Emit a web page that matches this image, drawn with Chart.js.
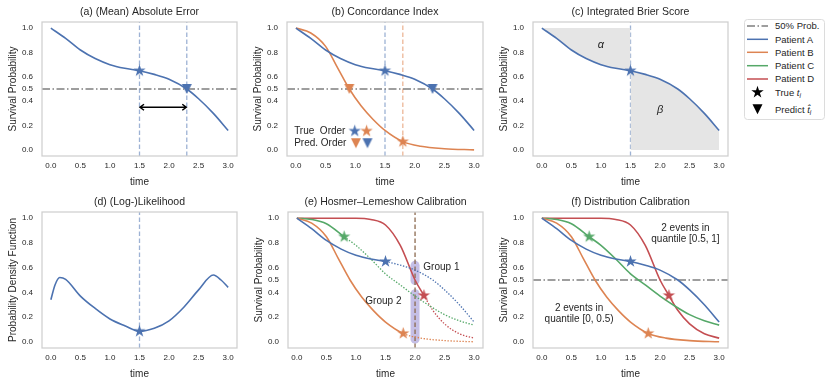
<!DOCTYPE html>
<html>
<head>
<meta charset="utf-8">
<script src="https://cdn.jsdelivr.net/npm/chart.js@4.4.1/dist/chart.umd.min.js"></script>
<style>
  body { margin: 0; width: 830px; height: 387px; background: #fff; position: relative; overflow: hidden; }
  canvas { position: absolute; }
  #legend { position: absolute; left: 743px; top: 18px; }
</style>
</head>
<body>
<canvas id="ca" width="244" height="194" style="left:0px;top:0px"></canvas>
<canvas id="cb" width="245" height="194" style="left:245px;top:0px"></canvas>
<canvas id="cc" width="244" height="194" style="left:491px;top:0px"></canvas>
<canvas id="cd" width="244" height="196" style="left:0px;top:190px"></canvas>
<canvas id="ce" width="244" height="196" style="left:246px;top:190px"></canvas>
<canvas id="cf" width="244" height="196" style="left:491px;top:190px"></canvas>
<svg id="legend" width="83" height="103"></svg>
<script>
// ---- data ----
const xTicks = [0, 0.5, 1.0, 1.5, 2.0, 2.5, 3.0];
const yTicksSurv = [0, 0.2, 0.4, 0.5, 0.6, 0.8, 1.0];
const yTicksPlain = [0, 0.2, 0.4, 0.6, 0.8, 1.0];

const timeA = [0, 0.25, 0.5, 0.75, 1.0, 1.25, 1.5, 1.75, 2.0, 2.3, 2.5, 2.75, 3.0];
const survA = [1.0, 0.915, 0.82, 0.75, 0.70, 0.67, 0.65, 0.62, 0.58, 0.50, 0.42, 0.30, 0.16];
const timeB = [0, 0.25, 0.5, 0.7, 0.9, 1.1, 1.3, 1.5, 1.8, 2.1, 2.5, 3.0];
const survB = [1.0, 0.96, 0.85, 0.675, 0.50, 0.36, 0.25, 0.16, 0.068, 0.03, 0.01, 0.0];
const timeC = [0, 0.25, 0.5, 0.8, 1.0, 1.25, 1.5, 1.75, 2.0, 2.25, 2.5, 2.75, 3.0];
const survC = [1.0, 0.99, 0.955, 0.85, 0.78, 0.67, 0.55, 0.46, 0.37, 0.29, 0.22, 0.17, 0.135];
const timeD = [0, 0.5, 1.0, 1.25, 1.5, 1.75, 2.0, 2.15, 2.3, 2.5, 2.75, 3.0];
const survD = [1.0, 1.0, 1.0, 0.99, 0.945, 0.78, 0.50, 0.375, 0.255, 0.145, 0.065, 0.03];

const timePdf = [0, 0.07, 0.15, 0.25, 0.5, 0.75, 1.0, 1.25, 1.5, 1.75, 2.0, 2.25, 2.5, 2.75, 2.88, 3.0];
const pdfA = [0.34, 0.46, 0.52, 0.505, 0.37, 0.27, 0.185, 0.13, 0.085, 0.11, 0.17, 0.28, 0.42, 0.54, 0.50, 0.44];

// true event (star) and predicted median time (triangle), patients A..D
const trueTimes = [1.5, 1.8, 0.8, 2.15];
const trueProbs = [0.65, 0.068, 0.85, 0.375];
const predTimes = [2.3, 0.9];
const predProbs = [0.5, 0.5];
const pdfAtTrue = 0.085;

const legendLabels = ['50% Prob.', 'Patient A', 'Patient B', 'Patient C', 'Patient D'];

// ---- styling ----
const INK = '#262626';
const COLORS = ['#4C72B0', '#DD8452', '#55A868', '#C44E52'];
const LIGHT = ['rgba(76,114,176,0.55)', 'rgba(221,132,82,0.6)'];
const BROWN = '#8c6a50';
const X_MIN = -0.15, X_MAX = 3.15, Y_MIN = -0.05, Y_MAX = 1.05;
const FONT = '"Liberation Sans", Arial, sans-serif';

Chart.defaults.font.family = FONT;
Chart.defaults.color = INK;

function starImage(color, r) {
  const s = Math.ceil(r * 2 + 2);
  const c = document.createElement('canvas');
  c.width = s; c.height = s;
  const g = c.getContext('2d');
  g.translate(s / 2, s / 2);
  g.beginPath();
  for (let i = 0; i < 10; i++) {
    const rad = i % 2 ? r * 0.382 : r;
    const a = -Math.PI / 2 + i * Math.PI / 5;
    g.lineTo(rad * Math.cos(a), rad * Math.sin(a));
  }
  g.closePath();
  g.fillStyle = color;
  g.fill();
  return c;
}

function triImage(color, w) {
  const s = Math.ceil(w + 2);
  const c = document.createElement('canvas');
  c.width = s; c.height = s;
  const g = c.getContext('2d');
  g.translate(s / 2, s / 2);
  g.beginPath();
  g.moveTo(-w / 2, -w / 2);
  g.lineTo(w / 2, -w / 2);
  g.lineTo(0, w / 2);
  g.closePath();
  g.fillStyle = color;
  g.fill();
  return c;
}

const STAR = COLORS.map(c => starImage(c, 6.5));
const TRI = COLORS.map(c => triImage(c, 10));

function xy(xs, ys) {
  return xs.map((x, i) => ({ x: x, y: Array.isArray(ys) ? ys[i] : ys }));
}

function curve(xs, ys, color, cut) {
  const ds = {
    type: 'line', data: xy(xs, ys), borderColor: color, borderWidth: 1.6,
    pointRadius: 0, cubicInterpolationMode: 'monotone', fill: false
  };
  if (cut !== undefined) {
    ds.segment = {
      borderDash: c => c.p0.parsed.x >= cut - 1e-6 ? [1.4, 1.6] : undefined,
      borderWidth: c => c.p0.parsed.x >= cut - 1e-6 ? 1.3 : undefined
    };
  }
  return ds;
}

function marker(xs, ys, img) {
  return { type: 'scatter', data: xy(xs, ys), pointStyle: img, pointRadius: 6, pointHoverRadius: 6, showLine: false };
}

function vline(x, color) {
  return { type: 'line', data: [{ x: x, y: Y_MIN }, { x: x, y: Y_MAX }], borderColor: color,
    borderWidth: 1.3, borderDash: [4.5, 2.5], pointRadius: 0 };
}

function hline(y) {
  return { type: 'line', data: [{ x: X_MIN, y: y }, { x: X_MAX, y: y }], borderColor: '#7f7f7f',
    borderWidth: 1.5, borderDash: [8, 2.5, 1.5, 2.5], pointRadius: 0 };
}

// annotation layout (data coordinates)
const NOTES = {
  ca: { arrows: [{ x1: 1.5, x2: 2.3, y: 0.35 }] },
  cb: { texts: [
    { text: 'True  Order', x: -0.03, y: 0.155, size: 10 },
    { text: 'Pred. Order', x: -0.03, y: 0.055, size: 10 }] },
  cc: { texts: [
    { text: 'α', x: 1.0, y: 0.86, size: 11, italic: true, align: 'center' },
    { text: 'β', x: 2.0, y: 0.33, size: 11, italic: true, align: 'center' }] },
  ce: {
    capsules: [{ x: 2.0, px: 9, y1: 0.46, y2: 0.655 }, { x: 2.0, px: 9, y1: -0.015, y2: 0.425 }],
    texts: [
      { text: 'Group 1', x: 2.14, y: 0.6, size: 10 },
      { text: 'Group 2', x: 1.77, y: 0.33, size: 10, align: 'right' }] },
  cf: { texts: [
    { text: '2 events in', x: 2.43, y: 0.92, size: 10, align: 'center' },
    { text: 'quantile [0.5, 1]', x: 2.43, y: 0.83, size: 10, align: 'center' },
    { text: '2 events in', x: 0.63, y: 0.27, size: 10, align: 'center' },
    { text: 'quantile [0, 0.5)', x: 0.63, y: 0.18, size: 10, align: 'center' }] }
};

const framePlugin = {
  id: 'frame',
  afterDraw(chart) {
    const a = chart.chartArea, c = chart.ctx;
    c.save();
    c.strokeStyle = '#cfcfcf';
    c.lineWidth = 1.25;
    c.strokeRect(a.left, a.top, a.right - a.left, a.bottom - a.top);
    c.restore();
  }
};

const notesPlugin = {
  id: 'notes',
  beforeDatasetsDraw(chart) {
    const n = NOTES[chart.canvas.id];
    if (!n || !n.capsules) return;
    const ctx = chart.ctx, sx = chart.scales.x, sy = chart.scales.y;
    ctx.save();
    n.capsules.forEach(e => {
      const cx = sx.getPixelForValue(e.x);
      const top = sy.getPixelForValue(e.y2), bot = sy.getPixelForValue(e.y1);
      ctx.beginPath();
      ctx.roundRect(cx - e.px / 2, top, e.px, bot - top, e.px / 2);
      ctx.fillStyle = 'rgba(140,128,205,0.5)';
      ctx.fill();
    });
    ctx.restore();
  },
  afterDatasetsDraw(chart) {
    const n = NOTES[chart.canvas.id];
    if (!n) return;
    const ctx = chart.ctx, sx = chart.scales.x, sy = chart.scales.y;
    ctx.save();
    (n.arrows || []).forEach(a => {
      const x1 = sx.getPixelForValue(a.x1), x2 = sx.getPixelForValue(a.x2), y = sy.getPixelForValue(a.y);
      ctx.strokeStyle = '#000';
      ctx.lineWidth = 1.5;
      ctx.beginPath();
      ctx.moveTo(x1 + 1, y); ctx.lineTo(x2 - 1, y);
      ctx.moveTo(x1 + 4.5, y - 3); ctx.lineTo(x1 + 0.5, y); ctx.lineTo(x1 + 4.5, y + 3);
      ctx.moveTo(x2 - 4.5, y - 3); ctx.lineTo(x2 - 0.5, y); ctx.lineTo(x2 - 4.5, y + 3);
      ctx.stroke();
    });
    (n.texts || []).forEach(t => {
      ctx.font = (t.italic ? 'italic ' : '') + t.size + 'px ' + FONT;
      ctx.fillStyle = INK;
      ctx.textAlign = t.align || 'left';
      ctx.textBaseline = 'middle';
      ctx.fillText(t.text, sx.getPixelForValue(t.x), sy.getPixelForValue(t.y));
    });
    ctx.restore();
  }
};

function axes(yTicks, yTitle) {
  return {
    x: {
      type: 'linear', min: X_MIN, max: X_MAX,
      afterBuildTicks: s => { s.ticks = xTicks.map(v => ({ value: v })); },
      afterFit: s => { s.height = 38; s.paddingLeft = 0; s.paddingRight = 0; },
      ticks: { font: { size: 8 }, color: INK, padding: 5, maxRotation: 0, autoSkip: false,
        callback: v => v.toFixed(1) },
      grid: { display: false, drawTicks: false },
      border: { display: false },
      title: { display: true, text: 'time', font: { size: 10 }, color: INK, padding: { top: 0, bottom: 6 } }
    },
    y: {
      type: 'linear', min: Y_MIN, max: Y_MAX,
      afterBuildTicks: s => { s.ticks = yTicks.map(v => ({ value: v })); },
      afterFit: s => { s.width = 42; s.paddingTop = 0; s.paddingBottom = 0; },
      ticks: { font: { size: 8 }, color: INK, padding: 9, autoSkip: false,
        callback: v => v.toFixed(1) },
      grid: { display: false, drawTicks: false },
      border: { display: false },
      title: { display: true, text: yTitle, font: { size: 10 }, color: INK, padding: { top: 7, bottom: 0 } }
    }
  };
}

function panel(id, title, datasets, yTicks, yTitle) {
  new Chart(document.getElementById(id), {
    type: 'scatter',
    data: { datasets: datasets },
    options: {
      responsive: false,
      animation: false,
      layout: { padding: { right: 4 } },
      plugins: {
        legend: { display: false },
        tooltip: { enabled: false },
        title: { display: true, text: title, fullSize: false, font: { size: 10.5, weight: 'normal' },
          color: INK, padding: { top: 5.5, bottom: 3.9 } }
      },
      scales: axes(yTicks, yTitle)
    },
    plugins: [framePlugin, notesPlugin]
  });
}

const SP = 'Survival Probability';

// (a)
panel('ca', '(a) (Mean) Absolute Error', [
  marker([trueTimes[0]], [trueProbs[0]], STAR[0]),
  marker([predTimes[0]], [predProbs[0]], TRI[0]),
  curve(timeA, survA, COLORS[0]),
  hline(0.5),
  vline(trueTimes[0], LIGHT[0]),
  vline(predTimes[0], LIGHT[0])
], yTicksSurv, SP);

// (b)
panel('cb', '(b) Concordance Index', [
  marker([trueTimes[0]], [trueProbs[0]], STAR[0]),
  marker([trueTimes[1]], [trueProbs[1]], STAR[1]),
  marker([predTimes[0]], [predProbs[0]], TRI[0]),
  marker([predTimes[1]], [predProbs[1]], TRI[1]),
  marker([0.99], [0.155], STAR[0]),
  marker([1.19], [0.155], STAR[1]),
  marker([1.01], [0.055], TRI[1]),
  marker([1.205], [0.055], TRI[0]),
  curve(timeA, survA, COLORS[0]),
  curve(timeB, survB, COLORS[1]),
  hline(0.5),
  vline(trueTimes[0], LIGHT[0]),
  vline(trueTimes[1], LIGHT[1])
], yTicksSurv, SP);

// (c)
const cutIdx = timeA.indexOf(trueTimes[0]);
panel('cc', '(c) Integrated Brier Score', [
  marker([trueTimes[0]], [trueProbs[0]], STAR[0]),
  curve(timeA, survA, COLORS[0]),
  Object.assign(curve(timeA.slice(0, cutIdx + 1), survA.slice(0, cutIdx + 1), 'rgba(0,0,0,0)'),
    { borderWidth: 0, fill: { value: 1 }, backgroundColor: '#e5e5e5' }),
  Object.assign(curve(timeA.slice(cutIdx), survA.slice(cutIdx), 'rgba(0,0,0,0)'),
    { borderWidth: 0, fill: { value: 0 }, backgroundColor: '#e5e5e5' }),
  vline(trueTimes[0], LIGHT[0])
], yTicksPlain, SP);

// (d)
panel('cd', '(d) (Log-)Likelihood', [
  marker([trueTimes[0]], [pdfAtTrue], STAR[0]),
  curve(timePdf, pdfA, COLORS[0]),
  vline(trueTimes[0], LIGHT[0])
], yTicksPlain, 'Probability Density Function');

// (e)
const times = [timeA, timeB, timeC, timeD];
const survs = [survA, survB, survC, survD];
panel('ce', '(e) Hosmer\u2013Lemeshow Calibration', [
  ...[2, 0, 1, 3].map(i => marker([trueTimes[i]], [trueProbs[i]], STAR[i])),
  ...[0, 1, 2, 3].map(i => curve(times[i], survs[i], COLORS[i], trueTimes[i])),
  vline(2.0, BROWN)
], yTicksSurv, SP);

// (f)
panel('cf', '(f) Distribution Calibration', [
  ...[2, 0, 1, 3].map(i => marker([trueTimes[i]], [trueProbs[i]], STAR[i])),
  ...[0, 1, 2, 3].map(i => curve(times[i], survs[i], COLORS[i])),
  hline(0.5)
], yTicksSurv, SP);

// legend
(function buildLegend() {
  const svg = document.getElementById('legend');
  const NS = 'http://www.w3.org/2000/svg';
  const rowY = [8, 21.3, 34.3, 47.7, 61, 74.3, 91.3];
  function el(tag, attrs, text) {
    const e = document.createElementNS(NS, tag);
    Object.keys(attrs).forEach(k => e.setAttribute(k, attrs[k]));
    if (text !== undefined) e.textContent = text;
    svg.appendChild(e);
    return e;
  }
  el('rect', { x: 1.5, y: 1.5, width: 80, height: 100, rx: 3, fill: '#fff', stroke: '#dcdcdc', 'stroke-width': 1 });
  legendLabels.forEach((lab, i) => {
    el('line', { x1: 4, x2: 25, y1: rowY[i], y2: rowY[i],
      stroke: i === 0 ? '#7f7f7f' : COLORS[i - 1], 'stroke-width': 1.5,
      'stroke-dasharray': i === 0 ? '8 2.5 1.5 2.5' : 'none' });
    el('text', { x: 32, y: rowY[i] + 3.3, 'font-size': 9.5, 'font-family': FONT, fill: INK }, lab);
  });
  let pts = '';
  for (let k = 0; k < 10; k++) {
    const r = k % 2 ? 2.5 : 6.5, a = -Math.PI / 2 + k * Math.PI / 5;
    pts += (14.5 + r * Math.cos(a)).toFixed(2) + ',' + (rowY[5] + r * Math.sin(a)).toFixed(2) + ' ';
  }
  el('polygon', { points: pts, fill: '#000' });
  el('polygon', { points: '9.5,' + (rowY[6] - 5) + ' 19.5,' + (rowY[6] - 5) + ' 14.5,' + (rowY[6] + 5), fill: '#000' });
  const t1 = el('text', { x: 32, y: rowY[5] + 3.3, 'font-size': 9.5, 'font-family': FONT, fill: INK }, 'True ');
  const a1 = document.createElementNS(NS, 'tspan'); a1.setAttribute('font-style', 'italic'); a1.textContent = 't'; t1.appendChild(a1);
  const b1 = document.createElementNS(NS, 'tspan'); b1.setAttribute('font-style', 'italic'); b1.setAttribute('font-size', 6.5); b1.setAttribute('dy', 2); b1.textContent = 'i'; t1.appendChild(b1);
  const t2 = el('text', { x: 32, y: rowY[6] + 3.3, 'font-size': 9.5, 'font-family': FONT, fill: INK }, 'Predict ');
  const a2 = document.createElementNS(NS, 'tspan'); a2.setAttribute('font-style', 'italic'); a2.textContent = 't\u0302'; t2.appendChild(a2);
  const b2 = document.createElementNS(NS, 'tspan'); b2.setAttribute('font-style', 'italic'); b2.setAttribute('font-size', 6.5); b2.setAttribute('dy', 2); b2.textContent = 'i'; t2.appendChild(b2);
})();
</script>
</body>
</html>
